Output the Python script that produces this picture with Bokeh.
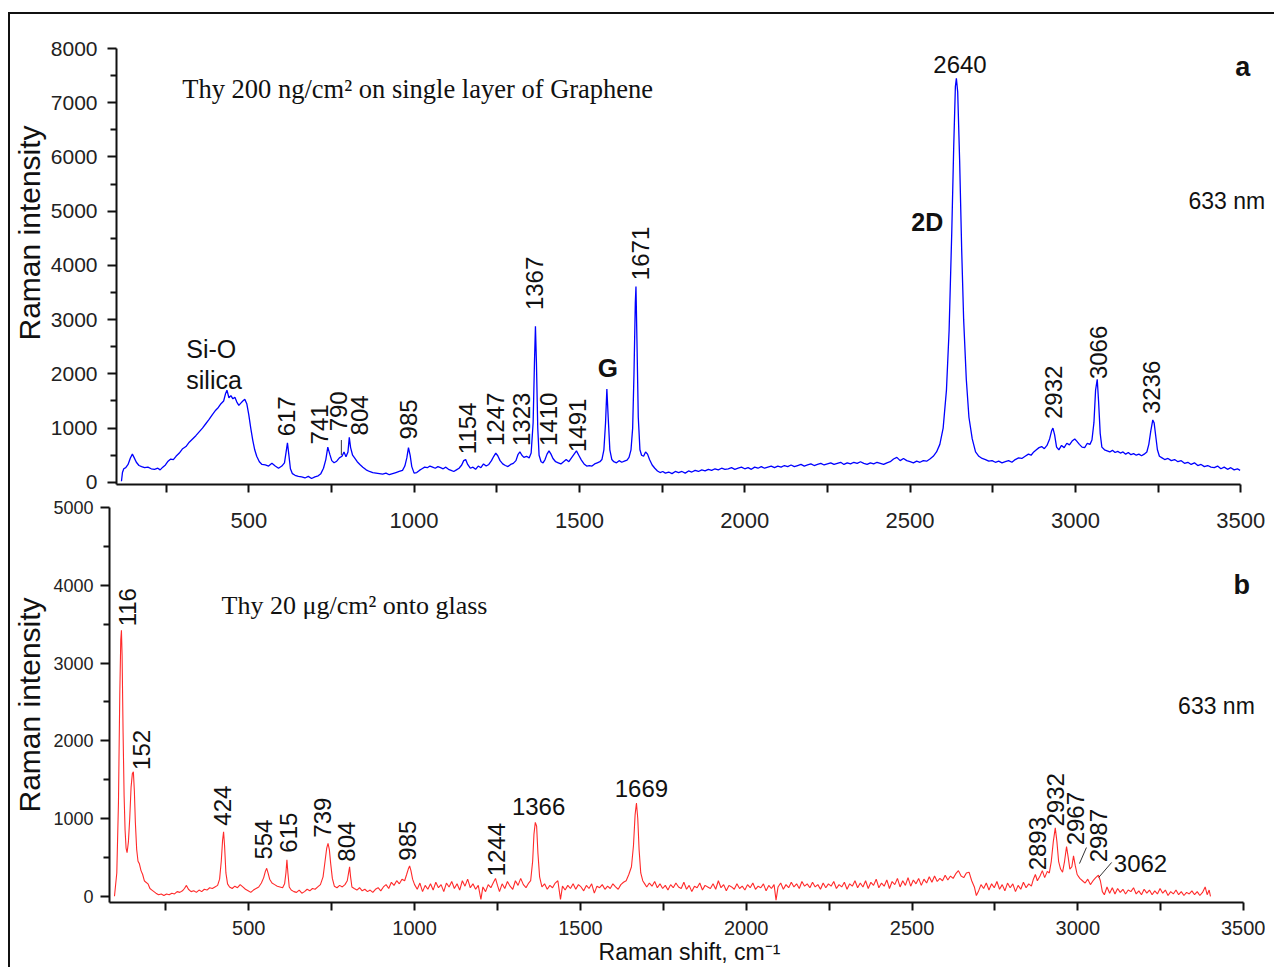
import math
from bokeh.plotting import figure
from bokeh.models import FixedTicker, Label, Title
from bokeh.layouts import column
from bokeh.embed import file_html
from bokeh.resources import INLINE

# ---------------- data ----------------
top_shift = [115, 118, 122, 128, 135, 142, 148, 153, 160, 168, 176, 185, 195, 205, 215, 225, 232, 240, 248, 256,
             264, 272, 280, 290, 300, 310, 320, 330, 340, 350, 360, 370, 380, 390, 400, 408, 416, 424, 430, 434,
             440, 446, 452, 458, 464, 470, 476, 482, 488, 494, 500, 506, 512, 518, 524, 532, 540, 550, 560, 570,
             580, 590, 600, 608, 613, 617, 621, 626, 632, 640, 650, 660, 670, 680, 690, 700, 710, 718, 726, 733,
             739, 745, 751, 758, 766, 774, 782, 788, 794, 800, 804, 808, 814, 820, 828, 836, 845, 855, 865, 875,
             885, 895, 905, 915, 925, 935, 945, 955, 965, 972, 978, 983, 988, 993, 1000, 1008, 1016, 1024, 1032, 1040,
             1048, 1056, 1064, 1072, 1080, 1088, 1096, 1104, 1112, 1120, 1128, 1136, 1144, 1150, 1156, 1162, 1170, 1178, 1186, 1194,
             1202, 1210, 1218, 1226, 1234, 1241, 1247, 1253, 1260, 1268, 1276, 1284, 1292, 1300, 1308, 1314, 1320, 1326, 1332, 1340,
             1348, 1354, 1360, 1364, 1367, 1370, 1374, 1378, 1384, 1390, 1396, 1402, 1408, 1414, 1420, 1428, 1436, 1444, 1452, 1460,
             1468, 1476, 1484, 1491, 1498, 1506, 1514, 1522, 1530, 1538, 1546, 1554, 1562, 1568, 1574, 1579, 1583, 1587, 1592, 1598,
             1604, 1612, 1620, 1628, 1636, 1644, 1650, 1656, 1661, 1665, 1669, 1671, 1674, 1678, 1683, 1688, 1694, 1700, 1706, 1712,
             1720, 1728, 1736, 1744, 1752, 1760, 1770, 1780, 1790, 1800, 1810, 1820, 1830, 1840, 1850, 1860, 1870, 1880, 1890, 1900,
             1910, 1920, 1930, 1940, 1950, 1960, 1970, 1980, 1990, 2000, 2010, 2020, 2030, 2040, 2050, 2060, 2070, 2080, 2090, 2100,
             2110, 2120, 2130, 2140, 2150, 2160, 2170, 2180, 2190, 2200, 2210, 2220, 2230, 2240, 2250, 2260, 2270, 2280, 2290, 2300,
             2310, 2320, 2330, 2340, 2350, 2360, 2370, 2380, 2390, 2400, 2410, 2420, 2430, 2440, 2450, 2460, 2470, 2480, 2490, 2500,
             2510, 2520, 2530, 2540, 2550, 2560, 2570, 2580, 2590, 2600, 2610, 2618, 2626, 2632, 2637, 2640, 2644, 2650, 2656, 2662,
             2670, 2678, 2688, 2698, 2708, 2718, 2728, 2738, 2748, 2758, 2768, 2778, 2788, 2798, 2808, 2818, 2828, 2838, 2848, 2858,
             2866, 2874, 2882, 2890, 2898, 2906, 2914, 2922, 2928, 2932, 2937, 2943, 2950, 2958, 2966, 2974, 2982, 2990, 2998, 3004,
             3012, 3020, 3028, 3036, 3044, 3050, 3056, 3061, 3066, 3070, 3075, 3080, 3088, 3096, 3104, 3112, 3120, 3128, 3136, 3144,
             3152, 3160, 3168, 3176, 3184, 3192, 3200, 3208, 3216, 3222, 3228, 3234, 3238, 3243, 3248, 3254, 3262, 3270, 3280, 3290,
             3300, 3310, 3320, 3330, 3340, 3350, 3360, 3370, 3380, 3390, 3400, 3410, 3420, 3430, 3440, 3450, 3460, 3470, 3480, 3490,
             3498]
top_intensity = [20, 180, 250, 270, 330, 450, 520, 460, 370, 310, 290, 270, 280, 250, 240, 260, 230, 280, 320, 390,
                 430, 420, 480, 540, 620, 660, 740, 800, 860, 930, 1000, 1080, 1160, 1250, 1330, 1380, 1450, 1500, 1640, 1700,
                 1560, 1600, 1540, 1570, 1480, 1420, 1460, 1500, 1530, 1450, 1250, 1000, 780, 600, 480, 380, 330, 320, 300, 350,
                 300, 260, 300, 360, 560, 730, 520, 250, 160, 130, 110, 100, 80, 110, 70, 100, 120, 160, 260, 420,
                 650, 520, 400, 360, 390, 450, 480, 560, 470, 560, 830, 640, 500, 450, 380, 330, 280, 230, 200, 180,
                 170, 160, 150, 170, 140, 160, 180, 200, 220, 300, 450, 640, 500, 290, 170, 180, 220, 250, 280, 270,
                 300, 280, 260, 290, 270, 250, 280, 240, 220, 200, 230, 260, 320, 400, 420, 330, 260, 280, 240, 300,
                 270, 340, 300, 330, 400, 480, 540, 490, 400, 340, 310, 290, 330, 350, 400, 510, 560, 500, 460, 480,
                 450, 540, 1100, 2200, 2880, 2200, 1000, 500, 380, 360, 420, 520, 580, 520, 440, 380, 360, 340, 380, 420,
                 380, 450, 520, 580, 500, 410, 340, 300, 310, 300, 340, 360, 380, 420, 600, 1100, 1720, 1200, 600, 420,
                 380, 360, 400, 370, 390, 410, 460, 600, 1000, 2000, 3300, 3610, 2600, 1200, 600, 500, 480, 560, 520, 420,
                 320, 260, 210, 180, 200, 170, 190, 160, 200, 180, 200, 170, 210, 190, 220, 200, 230, 210, 240, 220,
                 250, 230, 260, 240, 250, 270, 240, 260, 280, 250, 270, 240, 280, 260, 290, 260, 280, 300, 270, 300,
                 280, 310, 290, 320, 290, 310, 330, 300, 320, 340, 310, 330, 350, 320, 340, 360, 330, 350, 370, 330,
                 360, 340, 370, 350, 380, 350, 330, 360, 340, 370, 350, 330, 360, 380, 430, 460, 400, 440, 400, 380,
                 360, 390, 370, 400, 390, 430, 480, 560, 700, 1000, 1700, 2800, 4600, 6200, 7300, 7450, 7200, 5900, 4300, 3000,
                 1900, 1200, 800, 560, 480, 440, 420, 390, 400, 370, 390, 360, 380, 400, 370, 420, 450, 440, 480, 520,
                 500, 560, 600, 640, 660, 620, 680, 800, 950, 1000, 880, 650, 600, 680, 640, 720, 690, 760, 800, 760,
                 700, 650, 640, 720, 700, 780, 1100, 1700, 1900, 1500, 900, 650, 600, 580, 560, 590, 550, 570, 540, 560,
                 520, 550, 510, 530, 500, 520, 490, 520, 560, 700, 950, 1150, 1100, 850, 600, 480, 450, 420, 440, 400,
                 420, 380, 400, 350, 370, 330, 360, 310, 330, 290, 310, 280, 270, 300, 250, 280, 240, 270, 230, 250,
                 220]

bottom_shift = [95, 102, 107, 111, 114, 116, 118, 121, 124, 127, 130, 133, 137, 141, 145, 149, 152, 155, 158, 162,
                166, 170, 175, 180, 185, 190, 196, 202, 208, 214, 220, 228, 236, 244, 252, 260, 268, 276, 284, 292,
                300, 306, 312, 318, 326, 334, 342, 350, 358, 366, 374, 382, 390, 398, 406, 412, 417, 421, 424, 427,
                431, 436, 442, 450, 458, 466, 474, 482, 490, 498, 506, 514, 522, 530, 538, 545, 550, 554, 558, 563,
                570, 578, 586, 594, 602, 608, 612, 615, 618, 622, 628, 636, 644, 652, 660, 668, 676, 684, 692, 700,
                708, 716, 724, 730, 735, 739, 743, 747, 752, 758, 766, 774, 782, 790, 797, 801, 804, 807, 811, 818,
                826, 834, 842, 850, 858, 866, 874, 882, 890, 898, 906, 914, 922, 930, 938, 946, 954, 962, 970, 976,
                981, 985, 989, 994, 1000, 1008, 1016, 1024, 1032, 1040, 1048, 1056, 1064, 1072, 1080, 1088, 1096, 1104, 1112, 1120,
                1128, 1136, 1144, 1152, 1160, 1168, 1176, 1184, 1192, 1200, 1206, 1214, 1222, 1230, 1238, 1244, 1250, 1256, 1264, 1272,
                1280, 1288, 1296, 1304, 1312, 1320, 1328, 1336, 1344, 1350, 1356, 1360, 1364, 1368, 1372, 1377, 1384, 1392, 1400, 1408,
                1416, 1424, 1432, 1440, 1446, 1454, 1462, 1470, 1478, 1486, 1494, 1502, 1510, 1518, 1526, 1534, 1542, 1550, 1558, 1566,
                1574, 1582, 1590, 1598, 1606, 1614, 1622, 1630, 1638, 1646, 1654, 1660, 1665, 1669, 1673, 1677, 1682, 1688, 1694, 1700,
                1708, 1716, 1724, 1732, 1740, 1748, 1756, 1764, 1772, 1780, 1788, 1796, 1804, 1812, 1820, 1828, 1836, 1844, 1852, 1860,
                1868, 1876, 1884, 1892, 1900, 1908, 1916, 1924, 1932, 1940, 1948, 1956, 1964, 1972, 1980, 1988, 1996, 2004, 2012, 2020,
                2028, 2036, 2044, 2052, 2060, 2068, 2076, 2084, 2090, 2096, 2104, 2112, 2120, 2128, 2136, 2144, 2152, 2160, 2168, 2176,
                2184, 2192, 2200, 2208, 2216, 2224, 2232, 2240, 2248, 2256, 2264, 2272, 2280, 2288, 2296, 2304, 2312, 2320, 2328, 2336,
                2344, 2352, 2360, 2368, 2376, 2384, 2392, 2400, 2408, 2416, 2424, 2432, 2440, 2448, 2456, 2464, 2472, 2480, 2488, 2496,
                2504, 2512, 2520, 2528, 2536, 2544, 2552, 2560, 2568, 2576, 2584, 2592, 2600, 2608, 2616, 2624, 2632, 2640, 2648, 2656,
                2664, 2672, 2680, 2688, 2694, 2700, 2708, 2716, 2724, 2732, 2740, 2748, 2756, 2764, 2772, 2780, 2788, 2796, 2804, 2812,
                2820, 2828, 2836, 2844, 2852, 2860, 2866, 2872, 2878, 2886, 2893, 2900, 2908, 2914, 2920, 2926, 2932, 2937, 2942, 2948,
                2954, 2960, 2966, 2971, 2976, 2982, 2987, 2992, 2998, 3006, 3014, 3022, 3030, 3038, 3046, 3054, 3062, 3068, 3074, 3080,
                3088, 3096, 3104, 3112, 3120, 3128, 3136, 3144, 3152, 3160, 3168, 3176, 3184, 3192, 3200, 3208, 3216, 3224, 3232, 3240,
                3248, 3256, 3264, 3272, 3280, 3288, 3296, 3304, 3312, 3320, 3328, 3336, 3344, 3352, 3360, 3368, 3376, 3384, 3390, 3396,
                3400]
bottom_intensity = [0, 300, 1200, 2600, 3300, 3420, 3100, 2100, 1300, 850, 620, 560, 700, 1000, 1400, 1580, 1600, 1350, 950, 600,
                    450, 420, 330, 280, 200, 180, 160, 100, 80, 60, 40, 20, 30, 10, 30, 20, 40, 30, 60, 50,
                    70, 100, 140, 90, 60, 70, 50, 80, 60, 90, 80, 110, 100, 120, 140, 220, 450, 720, 830, 650,
                    300, 160, 120, 100, 130, 110, 150, 120, 90, 70, 50, 80, 100, 120, 170, 240, 320, 360, 300, 220,
                    170, 150, 130, 120, 110, 160, 300, 470, 300, 120, 80, 60, 50, 80, 40, 60, 90, 70, 100, 90,
                    120, 150, 250, 450, 620, 680, 600, 420, 230, 130, 110, 140, 120, 150, 200, 300, 380, 250, 120, 100,
                    80, 110, 70, 90, 60, 80, 50, 90, 110, 70, 120, 150, 100, 180, 140, 200, 160, 220, 200, 280,
                    350, 390, 330, 220, 150, 90, 170, 60, 140, 90, 160, 80, 180, 110, 150, 60, 170, 120, 190, 100,
                    160, 80, 200, 130, 220, 110, 160, 90, 140, -40, 120, 60, 150, 110, 180, 230, 140, 60, 160, 100,
                    190, 130, 90, 200, 140, 230, 150, 110, 170, 200, 450, 800, 950, 900, 550, 250, 120, 160, 90, 140,
                    110, 170, 200, -40, 130, 80, 140, 100, 160, 90, 150, 120, 70, 140, 100, 160, 40, 130, 110, 150,
                    90, 130, 100, 160, 120, 90, 150, 180, 200, 280, 380, 650, 1050, 1200, 1000, 600, 300, 200, 160, 120,
                    170, 130, 190, 110, 160, 100, 140, 80, 150, 110, 170, 120, 100, 180, 90, 140, 60, 130, 110, 170,
                    80, 140, 120, 100, 160, 90, 200, 110, 150, 70, 140, 120, 90, 160, 100, 130, 80, 150, 110, 170,
                    90, 130, 110, 160, 70, 140, 100, 150, -50, 120, 170, 90, 150, 110, 180, 120, 160, 100, 190, 130,
                    160, 110, 180, 120, 150, 90, 170, 110, 160, 130, 190, 100, 150, 120, 180, 90, 160, 130, 200, 110,
                    170, 120, 200, 100, 180, 140, 220, 110, 170, 130, 210, 100, 190, 150, 230, 120, 200, 140, 240, 130,
                    210, 160, 230, 140, 220, 170, 250, 180, 260, 190, 230, 200, 270, 210, 260, 230, 290, 330, 260, 240,
                    300, 310, 200, 120, 10, 60, 150, 100, 170, 80, 160, 110, 190, 90, 150, 70, 170, 110, 160, 60,
                    140, 90, 180, 110, 160, 130, 220, 280, 200, 260, 330, 240, 320, 300, 450, 700, 880, 700, 450, 350,
                    310, 450, 640, 500, 350, 380, 520, 400, 280, 230, 200, 170, 220, 150, 200, 240, 270, 200, 60, 20,
                    120, 40, 110, 30, 100, 50, 90, 30, 80, 60, 110, 30, 70, 20, 90, 40, 80, 20, 70, 30,
                    100, 40, 80, 10, 60, 30, 80, 20, 60, 10, 50, 30, 70, 20, 60, 10, 50, 120, 20, 80,
                    0]

x_major_ticks = [500, 1000, 1500, 2000, 2500, 3000, 3500]
x_minor_ticks = [250, 750, 1250, 1750, 2250, 2750, 3250]
top_y_ticks = [0, 1000, 2000, 3000, 4000, 5000, 6000, 7000, 8000]
top_y_minor = [500, 1500, 2500, 3500, 4500, 5500, 6500, 7500]
bottom_y_ticks = [0, 1000, 2000, 3000, 4000, 5000]
bottom_y_minor = [500, 1500, 2500, 3500, 4500]

# vertical peak labels, panel a
top_peak_text = ["617", "741", "790", "804", "985", "1154", "1247", "1323", "1410", "1491",
                 "1367", "1671", "2932", "3066", "3236"]
top_peak_x = [613, 713, 770, 834, 982, 1163, 1247, 1326, 1407, 1495, 1365, 1685, 2935, 3071, 3231]
top_peak_y = [1217, 1069, 1309, 1235, 1161, 995, 1161, 1161, 1161, 1051, 3668, 4221, 1659, 2396, 1751]

# vertical peak labels, panel b
bot_peak_text = ["116", "152", "424", "554", "615", "739", "804", "985", "1244", "2893", "2932", "2967", "2987"]
bot_peak_x = [134, 177, 421, 544, 620, 722, 795, 979, 1247, 2879, 2933, 2993, 3063]
bot_peak_y = [3718, 1883, 1165, 729, 818, 1011, 703, 716, 600, 677, 1241, 998, 780]

# horizontal peak labels, panel b
bot_hpeak_text = ["1366", "1669", "3062"]
bot_hpeak_x = [1374, 1684, 3189]
bot_hpeak_y = [1152, 1383, 421]

SANS = "Liberation Sans"
SERIF = "Liberation Serif"
INK = "#111111"


def style_axes(p, xfs, yfs, x_standoff, y_standoff, ytick_major, ytick_minor, xbounds):
    for ax in (p.xaxis[0], p.yaxis[0]):
        ax.axis_line_width = 2
        ax.axis_line_color = "#111111"
        ax.major_tick_line_width = 2
        ax.minor_tick_line_width = 2
        ax.major_tick_line_color = "#111111"
        ax.minor_tick_line_color = "#111111"
        ax.major_tick_in = 0
        ax.minor_tick_in = 0
        ax.major_label_text_font = SANS
        ax.major_label_text_color = "#222222"
    xa = p.xaxis[0]
    xa.ticker = FixedTicker(ticks=x_major_ticks, minor_ticks=x_minor_ticks)
    xa.bounds = xbounds
    xa.major_tick_out = 8
    xa.minor_tick_out = 8
    xa.major_label_text_font_size = xfs
    xa.major_label_standoff = x_standoff
    ya = p.yaxis[0]
    ya.ticker = FixedTicker(ticks=ytick_major, minor_ticks=ytick_minor)
    ya.major_tick_out = 9
    ya.minor_tick_out = 6
    ya.major_label_text_font_size = yfs
    ya.major_label_standoff = y_standoff
    p.xgrid.visible = False
    p.ygrid.visible = False
    p.outline_line_color = None


def add_label(p, x, y, text, size, angle=0.0, align="center", bold=False, font=SANS):
    p.add_layout(Label(x=x, y=y, text=text, angle=angle, text_align=align,
                       text_baseline="middle", text_font=font, text_font_size=size,
                       text_font_style="bold" if bold else "normal", text_color=INK))


# ---------------- panel a ----------------
p1 = figure(frame_width=1156, height=520, x_range=(100, 3590), y_range=(-40, 8000),
            output_backend="svg", toolbar_location=None,
            min_border_left=107, min_border_right=2, min_border_top=34, min_border_bottom=50,
            background_fill_color=None, border_fill_color=None,
            margin=(0, 0, 0, -2))
style_axes(p1, "22px", "21px", 20, 10, top_y_ticks, top_y_minor, (100, 3500))
p1.line(top_shift, top_intensity, line_color="#0000ff", line_width=1.3)

p1.add_layout(Title(text="Raman intensity", align="left", offset=144, standoff=4,
                    text_font=SANS, text_font_size="30px", text_font_style="normal",
                    text_color=INK), "left")
add_label(p1, 299, 7244, "Thy 200 ng/cm² on single layer of Graphene", "26.5px", align="left", font=SERIF)
add_label(p1, 3506, 7668, "a", "27px", bold=True)
add_label(p1, 3458, 5180, "633 nm", "23px")
add_label(p1, 2651, 7705, "2640", "24px")
add_label(p1, 2552, 4793, "2D", "25px", bold=True)
add_label(p1, 1586, 2101, "G", "26px", bold=True)
add_label(p1, 311, 2452, "Si-O", "25px", align="left")
add_label(p1, 311, 1880, "silica", "25px", align="left")
for t, x, y in zip(top_peak_text, top_peak_x, top_peak_y):
    add_label(p1, x, y, t, "24px", angle=math.pi / 2)
p1.segment(x0=[780], y0=[780], x1=[780], y1=[500], line_color="#333333", line_width=1)

# ---------------- panel b ----------------
p2 = figure(frame_width=1160, height=472, x_range=(80, 3578), y_range=(-80, 5000),
            output_backend="svg", toolbar_location=None,
            min_border_left=102, min_border_right=2, min_border_top=12, min_border_bottom=60,
            background_fill_color=None, border_fill_color=None,
            margin=(-39, 0, 0, -9))
style_axes(p2, "20px", "18px", 10, 7, bottom_y_ticks, bottom_y_minor, (80, 3500))
p2.yaxis[0].axis_label = "Raman intensity"
p2.yaxis[0].axis_label_text_font = SANS
p2.yaxis[0].axis_label_text_font_size = "30px"
p2.yaxis[0].axis_label_text_font_style = "normal"
p2.yaxis[0].axis_label_text_color = INK
p2.yaxis[0].axis_label_standoff = 4
p2.xaxis[0].axis_label = "Raman shift, cm⁻¹"
p2.xaxis[0].axis_label_text_font = SANS
p2.xaxis[0].axis_label_text_font_size = "23px"
p2.xaxis[0].axis_label_text_font_style = "normal"
p2.xaxis[0].axis_label_text_color = INK
p2.xaxis[0].axis_label_standoff = 1
p2.line(bottom_shift, bottom_intensity, line_color="#ff2a2a", line_width=1.1)

add_label(p2, 418, 3743, "Thy 20 μg/cm² onto glass", "26px", align="left", font=SERIF)
add_label(p2, 3494, 4000, "b", "27px", bold=True)
add_label(p2, 3418, 2447, "633 nm", "23px")
for t, x, y in zip(bot_peak_text, bot_peak_x, bot_peak_y):
    add_label(p2, x, y, t, "24px", angle=math.pi / 2)
for t, x, y in zip(bot_hpeak_text, bot_hpeak_x, bot_hpeak_y):
    add_label(p2, x, y, t, "24px")
p2.segment(x0=[3026, 3102], y0=[627, 435], x1=[3005, 3063], y1=[421, 242],
           line_color="#333333", line_width=1)

layout = column(p1, p2, margin=(12, 0, 0, 8),
                styles={"border-top": "2px solid #111111", "border-left": "2px solid #111111",
                        "background-color": "white"})

open("out.html", "w").write(file_html(layout, INLINE))
